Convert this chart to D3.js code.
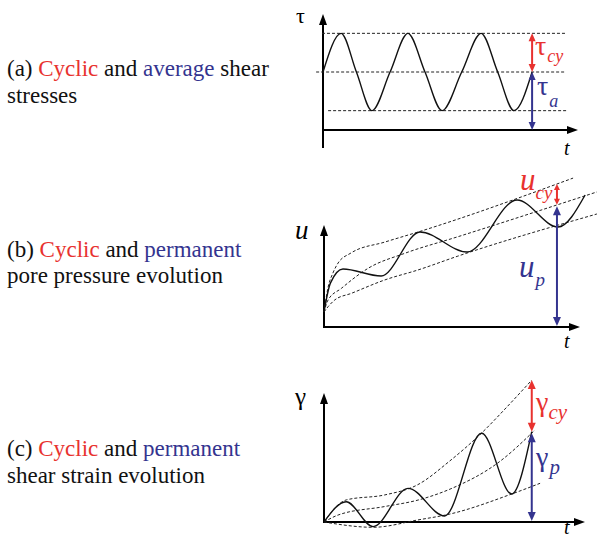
<!DOCTYPE html>
<html><head><meta charset="utf-8"><script src="https://cdn.jsdelivr.net/npm/d3@7"></script>
<style>
  body { margin: 0; position: relative; width: 597px; height: 538px; overflow: hidden; background: #fff; }
  .cap { position: absolute; left: 7px; font-family: "Liberation Serif", "Times New Roman", serif; font-size: 23px; line-height: 27px; white-space: nowrap; color: #111; }
  svg text { font-family: "Liberation Serif", "Times New Roman", serif; }
</style>
</head>
<body>
<svg id="s" width="597" height="538" style="position:absolute;left:0;top:0"></svg>
<script>
// ---------------- data ----------------
// (a) shear stress under cyclic loading: extremes and mean crossings
const stressTime  = [0, 7.1, 13.1, 19.2, 26.3, 33.3, 40, 46.7, 54.4, 62, 68.5, 74.9, 82];
const stressValue = [3, 5, 3, 1, 3, 5, 3, 1, 3, 5, 3, 1, 3];
const stressLevels = [5, 3, 1];            // tau_a + tau_cy, tau_a, tau_a - tau_cy
const stressMarkerTime = 82;

// (b) pore pressure: response and its three envelopes, [t, u]
const poreResponse = [[0,14.7],[2.5,43],[7.4,56.9],[22.3,50],[37.5,93.1],[55.9,73.5],[75.4,124.5],[91.4,98],[102,129.4]];
const poreUpper    = [[0,14.7],[1.6,39],[3.5,53],[5.5,62.7],[10.5,72.5],[23.8,83.3],[36.7,93.1],[97.3,146]];
const poreMean     = [[0,14.7],[1.6,26.5],[6.8,37.9],[17.2,57.5],[31.5,72.2],[52.3,88.5],[106.6,132.4]];
const poreLower    = [[0,14.7],[1.6,19.9],[4.2,26.5],[10.7,33],[23.7,46.1],[36.7,55.9],[52.3,69.5],[106.6,110.8]];
const poreMarker   = { t: 91, top: 140.2, mean: 119.8 };

// (c) shear strain: response and its three envelopes, [t, gamma]
const strainResponse = [[0,0],[8.5,15.7],[18.8,-3.6],[32.2,26.1],[46.2,4.7],[60.4,68.8],[71.9,21.7],[79.6,70]];
const strainUpper    = [[0,0],[8.5,17.1],[23.3,21],[36,29],[48,47],[60.4,69],[70,89],[79.6,110]];
const strainMean     = [[0,0],[5.4,5.4],[23.3,12],[36,17],[48.3,25.5],[67.4,47],[80.8,71.3]];
const strainLower    = [[0,0],[18.8,-4.1],[36,1.6],[48.3,6.2],[71.9,21.7],[82.8,30]];
const strainMarker   = { t: 79.6, top: 110, mean: 70 };

// caption lines: baseline heights, tag, coloured words
const captionRows = [
  { base: [76, 103],  tag: "(a)", word: "average",   rest: " shear", line2: "stresses" },
  { base: [257, 283], tag: "(b)", word: "permanent", rest: "",       line2: "pore pressure evolution" },
  { base: [456, 483], tag: "(c)", word: "permanent", rest: "",       line2: "shear strain evolution" }
];

// ---------------- style ----------------
const RED = "#e8322f";
const BLUE = "#34348f";
const SERIF = "Liberation Serif";
const BASELINE_OFFSET = 21.3;   // baseline inside a 27px line box at 23px

const svg = d3.select("#s");
const body = d3.select("body");

// captions on the left, serif text with coloured key words
captionRows.forEach(r => {
  const l1 = body.append("div").attr("class", "cap").style("top", (r.base[0] - BASELINE_OFFSET) + "px");
  l1.append("span").text(r.tag + " ");
  l1.append("span").style("color", RED).text("Cyclic");
  l1.append("span").text(" and ");
  l1.append("span").style("color", BLUE).text(r.word);
  if (r.rest) l1.append("span").text(r.rest);
  body.append("div").attr("class", "cap").style("top", (r.base[1] - BASELINE_OFFSET) + "px").text(r.line2);
});

function head(g, x, y, dir, len, half, color) {
  let pts;
  if (dir === "up")    pts = [[x, y], [x - half, y + len], [x + half, y + len]];
  if (dir === "down")  pts = [[x, y], [x - half, y - len], [x + half, y - len]];
  if (dir === "right") pts = [[x, y], [x - len, y - half], [x - len, y + half]];
  g.append("path").attr("d", d3.line()(pts) + "Z").attr("fill", color).attr("stroke", "none");
}

// vertical double-headed arrow between two pixel heights
function span(g, x, y1, y2, color, len, half) {
  g.append("line").attr("x1", x).attr("x2", x)
    .attr("y1", y1 + len * 0.6).attr("y2", y2 - len * 0.6)
    .attr("stroke", color).attr("stroke-width", 2);
  head(g, x, y1, "up", len, half, color);
  head(g, x, y2, "down", len, half, color);
}

function axes(g, x, y, yBottom, yTop, xRight) {
  g.append("line").attr("x1", x(0)).attr("x2", x(0)).attr("y1", yBottom).attr("y2", yTop + 8)
    .attr("stroke", "#000").attr("stroke-width", 2);
  g.append("line").attr("x1", x(0) - 1).attr("x2", xRight - 8).attr("y1", y(0)).attr("y2", y(0))
    .attr("stroke", "#000").attr("stroke-width", 2);
  head(g, x(0), yTop, "up", 11, 4, "#000");
  head(g, xRight, y(0), "right", 11, 4, "#000");
}

function dashed(g, d) {
  g.append("path").attr("d", d).attr("fill", "none")
    .attr("stroke", "#222").attr("stroke-width", 1).attr("stroke-dasharray", "3,2");
}

function solid(g, d) {
  g.append("path").attr("d", d).attr("fill", "none")
    .attr("stroke", "#111").attr("stroke-width", 1.4);
}

// symbol with optional italic subscript
function symbol(g, x, y, main, sub, color, mainSize, subSize, subDx, subDy, greek) {
  const t = g.append("text").attr("x", x).attr("y", y).attr("fill", color)
    .attr("font-family", SERIF);
  t.append("tspan").attr("font-style", greek ? "normal" : "italic")
    .attr("font-size", mainSize).text(main);
  if (sub) t.append("tspan").attr("font-style", "italic")
    .attr("font-size", subSize).attr("dx", subDx).attr("dy", subDy).text(sub);
}

function tLabel(g, x, y) {
  g.append("text").attr("x", x).attr("y", y).attr("font-family", SERIF)
    .attr("font-style", "italic").attr("font-size", 20).text("t");
}

// ---------------- (a) shear stresses ----------------
{
  const g = svg.append("g");
  const x = d3.scaleLinear().domain([0, 100]).range([323, 578]);
  const y = d3.scaleLinear().domain([0, 6]).range([130, 14]);

  axes(g, x, y, y(-0.93), y(6), x(100));

  const levelSpan = [[-0.4, 94.9], [-2.7, 94.9], [2, 96]];
  stressLevels.forEach((v, i) => {
    dashed(g, d3.line()([[x(levelSpan[i][0]), y(v)], [x(levelSpan[i][1]), y(v)]]));
  });

  const pts = stressTime.map((t, i) => [t, stressValue[i]]);
  solid(g, d3.line().x(d => x(d[0])).y(d => y(d[1])).curve(d3.curveMonotoneX)(pts));

  const mx = x(stressMarkerTime);
  span(g, mx, y(stressLevels[0]), y(stressLevels[1]), RED, 8, 3.5);
  span(g, mx, y(stressLevels[1]), y(0), BLUE, 8, 3.5);

  symbol(g, 296, 23, "τ", null, "#000", 22, 0, 0, 0, true);
  symbol(g, 535, 55, "τ", "cy", RED, 28, 18, 1, 7, true);
  symbol(g, 537, 95, "τ", "a", BLUE, 28, 18, 1, 12, true);
  tLabel(g, 564, 155);
}

// ---------------- (b) pore pressure ----------------
{
  const g = svg.append("g");
  const x = d3.scaleLinear().domain([0, 100]).range([324, 580]);
  const y = d3.scaleLinear().domain([0, 100]).range([327, 225]);
  const line = d3.line().x(d => x(d[0])).y(d => y(d[1])).curve(d3.curveMonotoneX);

  axes(g, x, y, y(0), y(100), x(100));
  [poreUpper, poreMean, poreLower].forEach(s => dashed(g, line(s)));
  solid(g, line(poreResponse));

  const mx = x(poreMarker.t);
  span(g, mx, y(poreMarker.top), y(poreMarker.mean), RED, 6, 3);
  span(g, mx, y(poreMarker.mean) + 1.5, y(0) - 1, BLUE, 9, 4);

  symbol(g, 295, 239, "u", null, "#000", 27, 0, 0, 0, false);
  symbol(g, 520, 190, "u", "cy", RED, 31, 19, 0, 9, false);
  symbol(g, 519, 277, "u", "p", BLUE, 31, 19, 1, 9, false);
  tLabel(g, 564, 348);
}

// ---------------- (c) shear strain ----------------
{
  const g = svg.append("g");
  const x = d3.scaleLinear().domain([0, 100]).range([324, 585]);
  const y = d3.scaleLinear().domain([0, 100]).range([522, 393]);
  const line = d3.line().x(d => x(d[0])).y(d => y(d[1])).curve(d3.curveMonotoneX);

  axes(g, x, y, y(0), y(100), x(100));
  [strainUpper, strainMean, strainLower].forEach(s => dashed(g, line(s)));
  solid(g, line(strainResponse));

  const mx = x(strainMarker.t);
  span(g, mx, y(strainMarker.top), y(strainMarker.mean), RED, 9, 4);
  span(g, mx, y(strainMarker.mean) + 1.5, y(0) - 1, BLUE, 9, 4);

  symbol(g, 295, 405, "γ", null, "#000", 25, 0, 0, 0, true);
  symbol(g, 536, 411, "γ", "cy", RED, 28, 21, 0, 8, true);
  symbol(g, 536, 466, "γ", "p", BLUE, 28, 21, 1, 8, true);
  tLabel(g, 564, 534);
}
</script>
</body>
</html>
